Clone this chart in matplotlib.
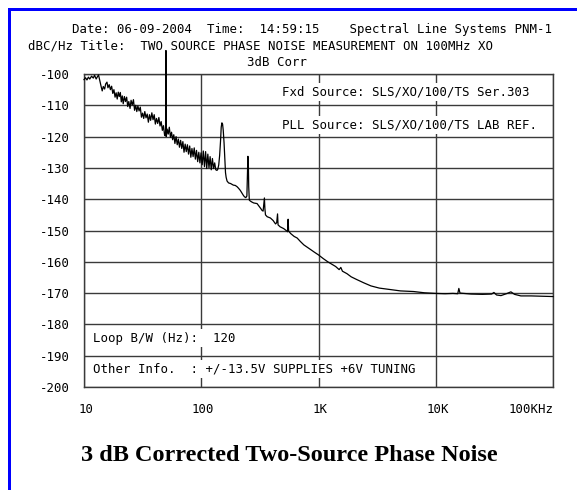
import matplotlib
matplotlib.use("Agg")
import matplotlib.pyplot as plt
from matplotlib.patches import Rectangle
from matplotlib.transforms import blended_transform_factory

# ---- data ----
freq_hz = [
    10.0, 10.3, 10.6, 10.9, 11.2, 11.6, 12.0, 12.3, 12.7, 13.0, 13.3, 13.7, 14.0,
    14.3, 14.6, 15.0, 15.3, 15.7, 16.0, 16.4, 16.8, 17.2, 17.6, 18.0, 18.4, 18.8,
    19.2, 19.6, 20.0, 20.4, 20.8, 21.2, 21.6, 22.1, 22.6, 23.1, 23.6, 24.1, 24.7,
    25.2, 25.8, 26.4, 27.0, 27.6, 28.2, 28.8, 29.5, 30.2, 30.9, 31.6, 32.3, 33.0,
    33.8, 34.6, 35.4, 36.2, 37.0, 37.9, 38.8, 39.7, 40.6, 41.5, 42.5, 43.5, 44.5,
    45.5, 46.6, 47.6, 48.7, 49.6, 50.0, 50.4, 51.2, 52.3, 53.4, 54.6, 55.8, 57.0,
    58.3, 59.6, 61.0, 62.4, 63.8, 65.2, 66.7, 68.2, 69.7, 71.3, 72.9, 74.5, 76.2,
    77.9, 79.7, 81.5, 83.3, 85.2, 87.1, 89.1, 91.1, 93.2, 95.3, 97.4, 99.6, 101.8,
    104.1, 106.5, 108.9, 111.3, 113.8, 116.4, 119.0, 121.7, 124.5, 127.3, 130.2,
    133.0, 136.2, 138.5, 141.0, 143.5, 146.0, 148.0, 150.0, 152.0, 154.0, 156.5,
    159.0, 161.0, 163.0, 166.0, 171.0, 178.0, 187.7, 195.0, 202.0, 208.0, 215.4,
    222.0, 228.0, 233.2, 240.0, 245.0, 247.5, 250.0, 252.0, 254.0, 257.0, 262.4,
    270.0, 280.0, 299.3, 312.0, 322.0, 330.3, 337.0, 342.0, 345.6, 349.0, 353.0,
    365.0, 388.8, 410.0, 430.0, 440.0, 447.4, 452.0, 470.0, 505.0, 530.0, 545.0,
    550.8, 556.0, 580.0, 620.0, 657.6, 700.0, 750.0, 800.0, 850.0, 920.0, 1000.0,
    1100.0, 1200.0, 1300.0, 1400.0, 1500.0, 1550.0, 1600.0, 1750.0, 1900.0,
    2100.0, 2427.0, 2800.0, 3300.0, 4125.0, 5000.0, 6486.0, 8000.0, 10000.0,
    12000.0, 14000.0, 15400.0, 15740.0, 16100.0, 20000.0, 25000.0, 30000.0,
    31330.0, 33000.0, 36000.0, 40000.0, 43750.0, 47000.0, 53210.0, 65000.0,
    80000.0, 100000.0,
]
noise_dbc = [
    -101.8, -101.2, -101.9, -101.0, -101.6, -100.7, -101.3, -100.4, -101.6, -100.9,
    -100.3, -102.5, -104.0, -105.4, -104.0, -104.8, -103.2, -102.6, -104.4, -103.4,
    -105.0, -103.9, -106.2, -105.0, -107.4, -106.0, -108.0, -105.8, -107.2, -105.9,
    -108.9, -107.0, -109.5, -107.2, -108.8, -107.4, -110.4, -108.8, -111.0, -108.4,
    -109.9, -108.2, -111.6, -110.0, -112.0, -110.2, -111.8, -110.6, -113.8, -112.5,
    -114.2, -112.0, -114.0, -112.8, -115.4, -113.0, -114.8, -112.4, -114.6, -113.0,
    -116.0, -114.2, -115.8, -113.9, -116.6, -115.2, -118.0, -116.5, -119.6, -119.8,
    -92.5, -119.9, -117.6, -119.2, -117.0, -120.2, -118.6, -121.0, -119.4, -122.2,
    -120.0, -122.6, -120.8, -123.4, -121.2, -123.8, -121.6, -125.0, -122.4, -124.8,
    -122.6, -125.6, -123.0, -126.6, -123.8, -126.4, -123.6, -127.2, -124.4, -128.0,
    -125.0, -128.4, -125.2, -129.0, -124.6, -129.6, -124.8, -130.2, -125.6, -130.0,
    -126.4, -130.6, -127.0, -130.2, -128.4, -130.6, -130.8, -130.4, -129.0, -126.0,
    -121.5, -117.0, -115.6, -116.0, -118.0, -122.0, -127.5, -131.5, -133.0, -134.2,
    -134.8, -135.0, -135.5, -135.6, -136.0, -136.5, -137.2, -138.0, -138.7, -139.2,
    -139.5, -139.0, -132.0, -126.3, -128.0, -136.0, -140.3, -140.6, -140.9, -141.2,
    -141.4, -142.3, -143.0, -143.6, -143.8, -141.5, -139.6, -143.0, -145.0, -145.6,
    -146.0, -146.8, -147.9, -147.5, -144.7, -148.2, -148.8, -149.4, -150.0, -150.4,
    -146.4, -150.2, -151.0, -151.9, -152.4, -153.5, -154.6, -155.3, -156.0, -156.9,
    -157.8, -159.0, -160.0, -160.8, -161.5, -162.5, -161.8, -163.0, -163.8, -164.8,
    -165.6, -166.7, -167.7, -168.4, -168.9, -169.3, -169.5, -169.9, -170.1, -170.2,
    -170.1, -170.2, -168.5, -170.0, -170.3, -170.4, -170.3, -169.8, -170.6, -170.8,
    -170.2, -169.6, -170.4, -170.9, -170.9, -171.0, -171.1,
]

x_ticks = [10, 100, 1000, 10000, 100000]
x_tick_labels = ["10", "100", "1K", "10K", "100KHz"]
y_ticks = [-200, -190, -180, -170, -160, -150, -140, -130, -120, -110, -100]
y_tick_labels = ["-200", "-190", "-180", "-170", "-160", "-150", "-140", "-130",
                 "-120", "-110", "-100"]

header_line1 = "Date: 06-09-2004  Time:  14:59:15    Spectral Line Systems PNM-1"
header_line2 = "dBC/Hz Title:  TWO SOURCE PHASE NOISE MEASUREMENT ON 100MHz XO"
corr_text = "3dB Corr"
fxd_text = "Fxd Source: SLS/XO/100/TS Ser.303"
pll_text = "PLL Source: SLS/XO/100/TS LAB REF."
loop_text = "Loop B/W (Hz):  120"
other_text = "Other Info.  : +/-13.5V SUPPLIES +6V TUNING"
caption = "3 dB Corrected Two-Source Phase Noise"

# ---- figure ----
W, H = 577, 490
fig = plt.figure(figsize=(W / 100, H / 100), dpi=100)
fig.patch.set_facecolor("white")

def fx(px):
    return px / W

def fy(py):
    return 1 - py / H

mono = "DejaVu Sans Mono"
fs = 8.9
grid_col = "#3a3a3a"

ax = fig.add_axes([fx(84), fy(387), fx(553) - fx(84), fy(74) - fy(387)])
ax.set_xscale("log")
ax.set_xlim(10, 100000)
ax.set_ylim(-200, -100)
ax.set_xticks(x_ticks)
ax.set_xticklabels([])
ax.minorticks_off()
ax.set_yticks(y_ticks)
ax.set_yticklabels(y_tick_labels, family=mono, fontsize=fs)
ax.tick_params(axis="both", length=0, pad=10)
ax.grid(True, which="major", color=grid_col, linewidth=1.0)
ax.set_axisbelow(True)
for s in ax.spines.values():
    s.set_color(grid_col)
    s.set_linewidth(1.0)

ax.plot(freq_hz, noise_dbc, color="black", linewidth=0.9, clip_on=False, zorder=3)

# x tick labels drawn below the axis
tr = blended_transform_factory(ax.transData, ax.transAxes)
for xv, lab in zip(x_ticks, x_tick_labels):
    if lab == "100KHz":
        ax.text(xv * 1.02, -0.073, lab, transform=tr, ha="right", va="center",
                family=mono, fontsize=fs, clip_on=False)
    else:
        ax.text(xv * 1.04, -0.073, lab, transform=tr, ha="center", va="center",
                family=mono, fontsize=fs, clip_on=False)

# texts inside the plot with white background masking the grid
box = dict(facecolor="white", edgecolor="none", pad=1.5)
fig.text(fx(282), fy(92), fxd_text, family=mono, fontsize=fs, va="center",
         ha="left", bbox=box, zorder=5)
fig.text(fx(282), fy(125), pll_text, family=mono, fontsize=fs, va="center",
         ha="left", bbox=box, zorder=5)
fig.text(fx(93), fy(338), loop_text, family=mono, fontsize=fs, va="center",
         ha="left", bbox=box, zorder=5)
fig.text(fx(93), fy(369), other_text, family=mono, fontsize=fs, va="center",
         ha="left", bbox=box, zorder=5)

# header texts
fig.text(fx(72), fy(30), header_line1, family=mono, fontsize=fs, va="center", ha="left")
fig.text(fx(28), fy(46), header_line2, family=mono, fontsize=fs, va="center", ha="left")
fig.text(fx(277), fy(62), corr_text, family=mono, fontsize=fs, va="center", ha="center")

# caption
fig.text(fx(289), fy(455), caption, family="Liberation Serif", fontweight="bold",
         fontsize=17.5, va="center", ha="center")

# blue border (top and left)
fig.patches.append(Rectangle((fx(8), fy(11)), 1 - fx(8), fy(8) - fy(11),
                             transform=fig.transFigure, facecolor="#0000ff",
                             edgecolor="none"))
fig.patches.append(Rectangle((fx(8), 0), fx(11) - fx(8), fy(8),
                             transform=fig.transFigure, facecolor="#0000ff",
                             edgecolor="none"))

fig.savefig("out.png", dpi=100, facecolor="white")
